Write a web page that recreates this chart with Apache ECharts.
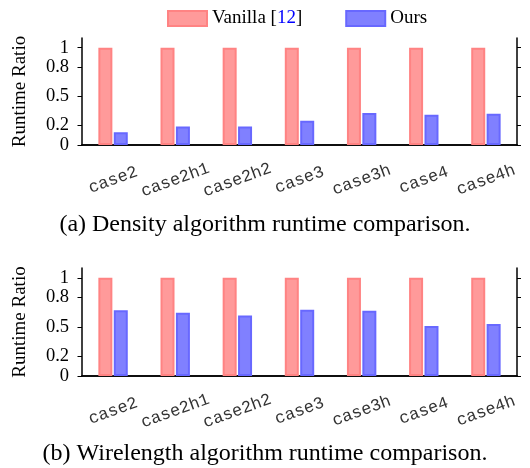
<!DOCTYPE html>
<html>
<head>
<meta charset="utf-8">
<script src="https://cdn.jsdelivr.net/npm/echarts@6/dist/echarts.min.js"></script>
<style>
html,body{margin:0;padding:0;background:#fff;}
#chart{width:530px;height:468px;}
</style>
</head>
<body>
<div id="chart"></div>
<script>
const categories = ['case2', 'case2h1', 'case2h2', 'case3', 'case3h', 'case4', 'case4h'];
const densityVanilla = [1, 1, 1, 1, 1, 1, 1];
const densityOurs = [0.13, 0.19, 0.19, 0.25, 0.33, 0.31, 0.32];
const wirelengthVanilla = [1, 1, 1, 1, 1, 1, 1];
const wirelengthOurs = [0.67, 0.645, 0.615, 0.675, 0.665, 0.51, 0.53];
const yTicks = [0, 0.2, 0.5, 0.8, 1];
const seriesNames = ['Vanilla [12]', 'Ours'];
const captions = ['(a) Density algorithm runtime comparison.', '(b) Wirelength algorithm runtime comparison.'];

const serif = '"Liberation Serif", "DejaVu Serif", serif';
const mono = '"Liberation Mono", "DejaVu Sans Mono", monospace';

const grids = [
  { left: 82, right: 13, top: 38, height: 107 },
  { left: 82, right: 13, top: 268, height: 108 }
];

const xAxes = [];
const yAxes = [];
grids.forEach((g, i) => {
  xAxes.push({
    type: 'category', gridIndex: i, position: 'bottom', data: categories,
    axisLine: { lineStyle: { color: '#000', width: 1.5 } },
    axisTick: { alignWithLabel: true, interval: 0, length: 4, lineStyle: { color: '#555' } },
    axisLabel: { interval: 0, hideOverlap: false, rotate: 20, align: 'center', verticalAlign: 'middle', margin: 35,
      fontFamily: mono, fontSize: 17, color: '#333' }
  });
  xAxes.push({
    type: 'category', gridIndex: i, position: 'top', data: categories,
    axisLine: { lineStyle: { color: '#000', width: 1.5 } },
    axisTick: { alignWithLabel: true, interval: 0, length: 5, lineStyle: { color: '#000' } },
    axisLabel: { show: false, interval: 0 }
  });
  yAxes.push({
    type: 'value', gridIndex: i, position: 'left', min: 0, max: 1.1,
    name: 'Runtime Ratio', nameLocation: 'middle', nameGap: 52,
    nameTextStyle: { fontFamily: serif, fontSize: 19, color: '#000' },
    axisLine: { show: true, lineStyle: { color: '#000', width: 1.5 } },
    axisTick: { show: true, length: 4.5, customValues: yTicks, lineStyle: { color: '#000' } },
    axisLabel: { customValues: yTicks, margin: 13, fontFamily: serif, fontSize: 18.5, color: '#000',
      formatter: v => String(v) },
    splitLine: { show: false }
  });
  yAxes.push({
    type: 'value', gridIndex: i, position: 'right', min: 0, max: 1.1,
    axisLine: { show: true, lineStyle: { color: '#000', width: 1.5 } },
    axisTick: { show: true, length: 4, customValues: yTicks, lineStyle: { color: '#000' } },
    axisLabel: { show: false },
    splitLine: { show: false }
  });
});

const vanillaStyle = { color: '#ff9a9a', borderColor: '#ff8383', borderWidth: 2 };
const oursStyle = { color: '#8080ff', borderColor: '#6868ff', borderWidth: 2 };

const series = [];
[[densityVanilla, densityOurs], [wirelengthVanilla, wirelengthOurs]].forEach((pair, i) => {
  series.push({ name: seriesNames[0], type: 'bar', xAxisIndex: i * 2, yAxisIndex: i * 2,
    data: pair[0], barWidth: 14, barGap: '10%', itemStyle: vanillaStyle });
  series.push({ name: seriesNames[1], type: 'bar', xAxisIndex: i * 2, yAxisIndex: i * 2,
    data: pair[1], barWidth: 14, barGap: '10%', itemStyle: oursStyle });
});

const chart = echarts.init(document.getElementById('chart'), null, { renderer: 'canvas' });
chart.setOption({
  animation: false,
  backgroundColor: '#fff',
  grid: grids.map(g => Object.assign({ outerBoundsMode: 'none', containLabel: false }, g)),
  xAxis: xAxes,
  yAxis: yAxes,
  legend: {
    data: seriesNames,
    left: 167, top: 9, padding: 0,
    itemWidth: 39, itemHeight: 15, itemGap: 43, icon: 'rect',
    selectedMode: false,
    formatter: name => name === 'Vanilla [12]' ? 'Vanilla [{c|12}]' : name,
    textStyle: {
      fontFamily: serif, fontSize: 19, color: '#000',
      rich: { c: { fontFamily: serif, fontSize: 19, color: '#0000ff' } }
    }
  },
  graphic: [
    { type: 'text', left: 'center', top: 213,
      style: { text: captions[0], font: '24px ' + serif, fill: '#000' } },
    { type: 'text', left: 'center', top: 442,
      style: { text: captions[1], font: '24px ' + serif, fill: '#000' } }
  ],
  series: series
});
</script>
</body>
</html>
